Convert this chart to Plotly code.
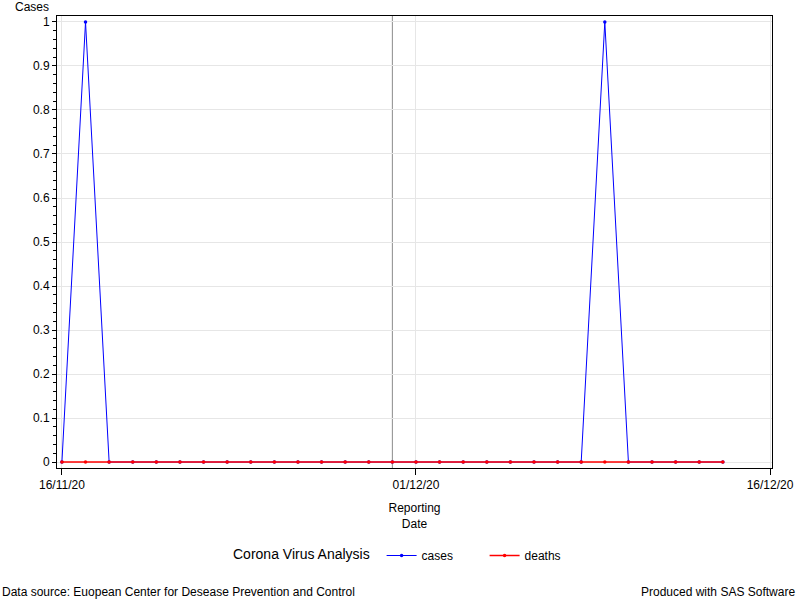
import pandas as pd
import plotly.graph_objects as go

dates = pd.date_range("2020-11-16", "2020-12-14", freq="D")
cases = [0, 1, 0, 0, 0, 0, 0, 0, 0, 0, 0, 0, 0, 0, 0,
         0, 0, 0, 0, 0, 0, 0, 0, 1, 0, 0, 0, 0, 0]
deaths = [0] * 29
ref_date = "2020-11-30"
x_ticks = ["2020-11-16", "2020-12-01", "2020-12-16"]
y_ticks = [0, 0.1, 0.2, 0.3, 0.4, 0.5, 0.6, 0.7, 0.8, 0.9, 1]
y_labels = ["0", "0.1", "0.2", "0.3", "0.4", "0.5", "0.6", "0.7", "0.8", "0.9", "1"]

FONT = "Liberation Sans, Arial, sans-serif"
L, R, T, B = 57, 28, 16, 132
pw = 800 - L - R
ph = 600 - T - B


def px_x(x):
    return (x - L) / pw


def px_y(y):
    return (600 - B - y) / ph


fig = go.Figure()
fig.add_trace(go.Scatter(x=dates, y=cases, mode="lines+markers", name="cases",
                         line=dict(color="#0000ff", width=1),
                         marker=dict(color="#0000ff", size=3.5)))
fig.add_trace(go.Scatter(x=dates, y=deaths, mode="lines+markers", name="deaths",
                         line=dict(color="#ff0000", width=1.5),
                         marker=dict(color="#ff0000", size=3.5)))

fig.add_shape(type="line", x0=ref_date, x1=ref_date, y0=0, y1=1, xref="x", yref="paper",
              line=dict(color="#8c8c8c", width=1), layer="below")

fig.update_layout(
    width=800, height=600,
    paper_bgcolor="white", plot_bgcolor="white",
    margin=dict(l=L, r=R, t=T, b=B, autoexpand=False),
    font=dict(family=FONT, size=12, color="black"),
    showlegend=True,
    legend=dict(orientation="h", x=px_x(231), xanchor="left", y=px_y(541), yanchor="top",
                title=dict(text="Corona Virus Analysis ", side="left"),
                font=dict(size=12), itemwidth=30,
                entrywidth=58, entrywidthmode="pixels"),
    xaxis=dict(
        range=["2020-11-15 19:00", "2020-12-16 02:00"],
        tickvals=x_ticks, tickformat="%d/%m/%y",
        showgrid=True, gridcolor="#e6e6e6",
        showline=True, linecolor="black", linewidth=1, mirror=True,
        ticks="outside", ticklen=6, tickcolor="black",
        zeroline=False, automargin=False,
        title=dict(text="Reporting<br>Date", standoff=12, font=dict(size=12)),
    ),
    yaxis=dict(
        range=[-0.0136, 1.0136],
        tickvals=y_ticks, ticktext=y_labels,
        showgrid=True, gridcolor="#e6e6e6",
        showline=True, linecolor="black", linewidth=1, mirror=True,
        ticks="outside", ticklen=4, tickcolor="black",
        minor=dict(dtick=0.02, ticks="outside", ticklen=3, tickcolor="black", showgrid=False),
        zeroline=False, automargin=False,
    ),
    annotations=[
        dict(text="Cases", x=px_x(32), y=px_y(7), xref="paper", yref="paper", showarrow=False,
             xanchor="center", yanchor="middle"),
        dict(text="Data source: Euopean Center for Desease Prevention and Control",
             x=px_x(0), y=px_y(592), xref="paper", yref="paper", showarrow=False,
             xanchor="left", yanchor="middle"),
        dict(text="Produced with SAS Software",
             x=px_x(797), y=px_y(592), xref="paper", yref="paper", showarrow=False,
             xanchor="right", yanchor="middle"),
    ],
)

fig.write_html("out.html", config={"displayModeBar": False},
               post_script="document.body.style.margin='0';document.body.style.overflow='hidden';")
